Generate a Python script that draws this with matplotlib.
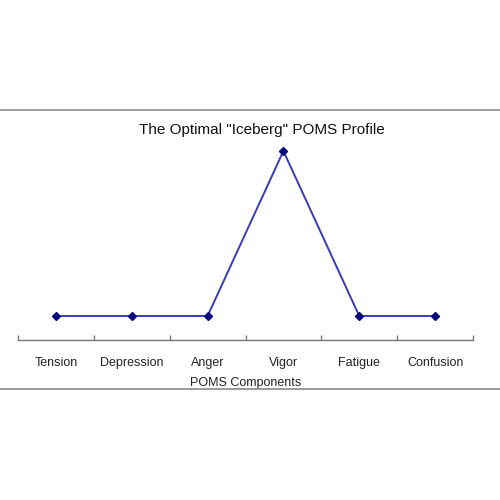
import matplotlib
matplotlib.use('Agg')
import matplotlib.pyplot as plt
from matplotlib.lines import Line2D

# %% data
components = ['Tension', 'Depression', 'Anger', 'Vigor', 'Fatigue', 'Confusion']
scores = [40, 40, 40, 65, 40, 40]

# %% figure
plt.rcParams['font.family'] = ['Liberation Sans', 'DejaVu Sans']
fig = plt.figure(figsize=(5, 5), dpi=100)
ax = fig.add_axes([0.036, 0.32, 0.91, 0.378])

x = list(range(len(components)))
ax.plot(x, scores, color='#3a3ab8', lw=1.4, marker='D', ms=4.2,
        mfc='#0a0a80', mec='#0a0a80', clip_on=False, zorder=3)

lo, hi = min(scores), max(scores)
frac = 24 / 189
rng = (hi - lo) / (1 - frac)
ax.set_ylim(lo - frac * rng, hi)
ax.set_xlim(-0.5, len(components) - 0.5)

ax.set_xticks([i - 0.5 for i in range(len(components) + 1)])
ax.set_xticklabels([])
ax.set_xticks(x, minor=True)
ax.set_xticklabels(components, minor=True, fontsize=9, color='#222222')
ax.tick_params(axis='x', which='major', direction='in', length=3.5, color='#777777', width=1)
ax.tick_params(axis='x', which='minor', length=0, pad=12)
ax.set_yticks([])
for s in ['top', 'right', 'left']:
    ax.spines[s].set_visible(False)
ax.spines['bottom'].set_color('#777777')
ax.spines['bottom'].set_linewidth(1)
ax.set_xlabel('POMS Components', fontsize=9, color='#222222', labelpad=6)

fig.text(0.524, 0.74, 'The Optimal "Iceberg" POMS Profile', ha='center', va='center',
         fontsize=11, color='#111111')

fig.add_artist(Line2D([0, 1], [0.78, 0.78], color='#8a8a8a', lw=1.2, transform=fig.transFigure))
fig.add_artist(Line2D([0, 1], [0.222, 0.222], color='#8a8a8a', lw=1.2, transform=fig.transFigure))

fig.savefig('out.png', dpi=100)
